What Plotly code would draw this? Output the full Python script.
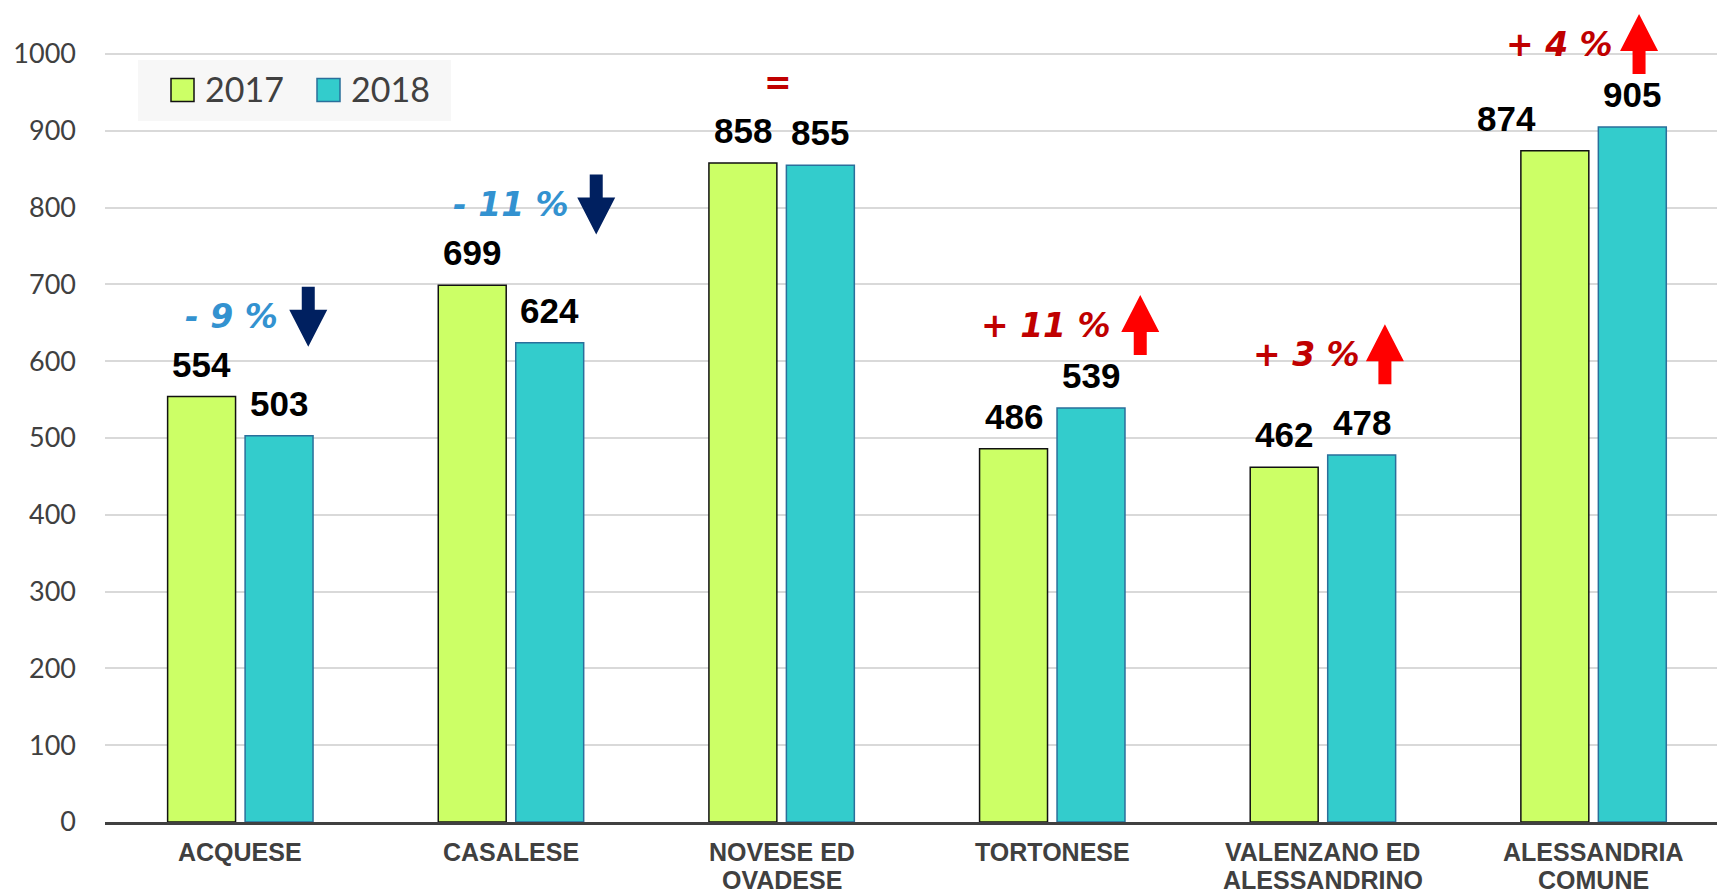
import plotly.graph_objects as go

# ---- data -------------------------------------------------------------
categories = [
    "ACQUESE",
    "CASALESE",
    "NOVESE ED<br>OVADESE",
    "TORTONESE",
    "VALENZANO ED<br>ALESSANDRINO",
    "ALESSANDRIA<br>COMUNE",
]
values_2017 = [554, 699, 858, 486, 462, 874]
values_2018 = [503, 624, 855, 539, 478, 905]
series_names = ["2017", "2018"]
y_ticks = [0, 100, 200, 300, 400, 500, 600, 700, 800, 900, 1000]

# ---- styling ----------------------------------------------------------
W, H = 1717, 894
M_L, M_B = 105, 72
PLOT_W, PLOT_H = W - M_L, H - M_B
X_RANGE = [-0.5, 5.456]
Y_RANGE = [0, 1070.3]

GREEN, GREEN_EDGE = "#CCFF66", "#111111"
TEAL, TEAL_EDGE = "#33CCCC", "#2A6F9B"
GREY_TEXT = "#404040"
BLUE_TEXT, NAVY = "#3392D0", "#002060"
RED_TEXT, RED = "#C00000", "#FF0000"

BARGAP, BARGROUPGAP = 0.4275, 0.123
bar_offset = (1 - BARGAP) / 4  # distance from category centre to each bar centre

# placement of the change indicators (offset in category units, height in value units)
indicator_text_dx = [-0.031, 0.0, -0.015, -0.022, -0.062, -0.127]
indicator_arrow_dx = [0.251, 0.315, 0.0, 0.325, 0.229, 0.168]
indicator_y = [658, 804, 963, 647, 609, 1013]
# manual horizontal nudges (pixels) for a few value labels
label_nudge_2017 = {5: -48}

# category label lines: first line centre below the axis, then line pitch (pixels)
CAT_FIRST_LINE = 29.5
CAT_LINE_PITCH = 28.5


def px_to_paper_x(px):
    return (px - M_L) / PLOT_W


def px_to_paper_y(py):
    return (PLOT_H - py) / PLOT_H


x_pos = list(range(len(categories)))

fig = go.Figure()
fig.add_trace(go.Bar(
    x=x_pos, y=values_2017, name=series_names[0],
    marker=dict(color=GREEN, line=dict(color=GREEN_EDGE, width=1.5)),
    hoverinfo="skip",
))
fig.add_trace(go.Bar(
    x=x_pos, y=values_2018, name=series_names[1],
    marker=dict(color=TEAL, line=dict(color=TEAL_EDGE, width=1.5)),
    hoverinfo="skip",
))

annotations = []
shapes = []

# category names under the axis, one annotation per line for tight spacing
cat_font = dict(family="Liberation Sans, Arial, sans-serif", size=25,
                color=GREY_TEXT, weight="bold")
for i, cat in enumerate(categories):
    for j, line in enumerate(cat.split("<br>")):
        annotations.append(dict(
            x=i, y=0, xref="x", yref="paper", text=line, showarrow=False,
            xanchor="center", yanchor="middle", borderpad=0,
            yshift=-(CAT_FIRST_LINE + j * CAT_LINE_PITCH),
            font=cat_font,
        ))

# value labels above each bar
label_font = dict(family="Liberation Sans, Arial, sans-serif", size=35, color="black", weight="bold")
for i, (a, b) in enumerate(zip(values_2017, values_2018)):
    annotations.append(dict(
        x=i - bar_offset, y=a, xref="x", yref="y", text=str(a), showarrow=False,
        yanchor="bottom", xanchor="center", yshift=11, xshift=label_nudge_2017.get(i, 0),
        font=label_font,
    ))
    annotations.append(dict(
        x=i + bar_offset, y=b, xref="x", yref="y", text=str(b), showarrow=False,
        yanchor="bottom", xanchor="center", yshift=11,
        font=label_font,
    ))

# change indicators: percentage text plus block arrow
UP_ARROW = "M 0 30 L 19 -7 L 6.5 -7 L 6.5 -30 L -6.5 -30 L -6.5 -7 L -19 -7 Z"
DOWN_ARROW = "M 0 -30 L 19 7 L 6.5 7 L 6.5 30 L -6.5 30 L -6.5 7 L -19 7 Z"
for i, (a, b) in enumerate(zip(values_2017, values_2018)):
    pct = round((b - a) / a * 100)
    if pct == 0:
        txt, col = "=", RED_TEXT
    elif pct > 0:
        txt, col = f"+ {abs(pct)} %", RED_TEXT
    else:
        txt, col = f"- {abs(pct)} %", BLUE_TEXT
    annotations.append(dict(
        x=i + indicator_text_dx[i], y=indicator_y[i], xref="x", yref="y",
        text=txt, showarrow=False, xanchor="center", yanchor="middle",
        font=dict(family="DejaVu Sans, sans-serif", size=33, color=col,
                  weight="bold", style="italic"),
    ))
    if pct != 0:
        shapes.append(dict(
            type="path", xref="x", yref="y",
            xsizemode="pixel", ysizemode="pixel",
            xanchor=i + indicator_arrow_dx[i], yanchor=indicator_y[i],
            path=UP_ARROW if pct > 0 else DOWN_ARROW,
            fillcolor=RED if pct > 0 else NAVY, line=dict(width=0),
            layer="above",
        ))

# legend box drawn by hand
shapes.append(dict(
    type="rect", xref="paper", yref="paper",
    x0=px_to_paper_x(138), x1=px_to_paper_x(451),
    y0=px_to_paper_y(121), y1=px_to_paper_y(60),
    fillcolor="#F7F7F7", line=dict(width=0), layer="above",
))
legend_items = [
    (series_names[0], GREEN, GREEN_EDGE, 171, 205),
    (series_names[1], TEAL, TEAL_EDGE, 317, 351),
]
for name, fill, edge, sx, tx in legend_items:
    shapes.append(dict(
        type="rect", xref="paper", yref="paper",
        x0=px_to_paper_x(sx), x1=px_to_paper_x(sx + 23),
        y0=px_to_paper_y(101.5), y1=px_to_paper_y(78.5),
        fillcolor=fill, line=dict(color=edge, width=1.5), layer="above",
    ))
    annotations.append(dict(
        x=px_to_paper_x(tx - 2), y=px_to_paper_y(88.5), xref="paper", yref="paper",
        text=name, showarrow=False, xanchor="left", yanchor="middle",
        font=dict(family="Lato, Carlito, sans-serif", size=34, color=GREY_TEXT),
    ))

fig.update_layout(
    width=W, height=H,
    margin=dict(l=M_L, r=0, t=0, b=M_B, pad=0, autoexpand=False),
    paper_bgcolor="white", plot_bgcolor="white",
    barmode="group", bargap=BARGAP, bargroupgap=BARGROUPGAP,
    showlegend=False,
    annotations=annotations, shapes=shapes,
    xaxis=dict(
        range=X_RANGE, tickmode="array", tickvals=x_pos,
        showticklabels=False,
        showgrid=False, zeroline=False, automargin=False,
        showline=True, linecolor=GREY_TEXT, linewidth=3,
        ticks="",
        fixedrange=True,
    ),
    yaxis=dict(
        range=Y_RANGE, tickmode="array", tickvals=y_ticks,
        showgrid=True, gridcolor="#D9D9D9", gridwidth=2,
        zeroline=False, showline=False, ticks="", automargin=False,
        ticklabelstandoff=28,
        tickfont=dict(family="Lato, Carlito, sans-serif", size=27, color=GREY_TEXT),
        fixedrange=True,
    ),
)

fig.write_html("out.html")
